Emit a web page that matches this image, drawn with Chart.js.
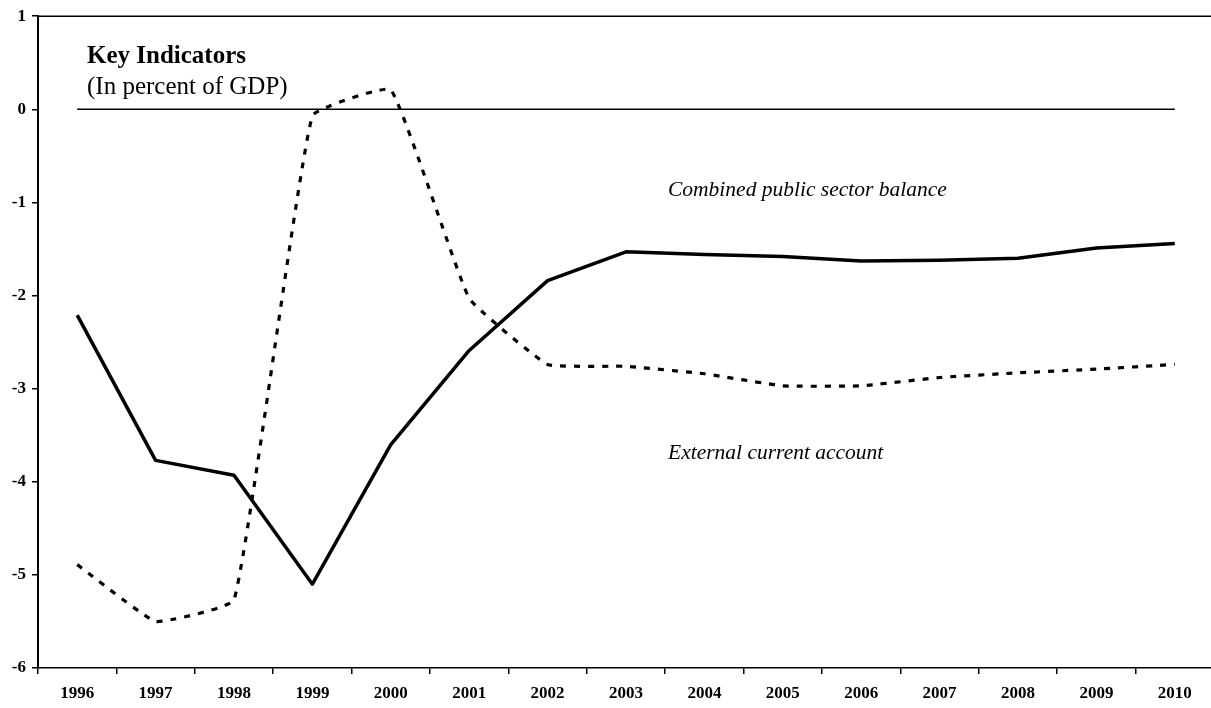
<!DOCTYPE html>
<html>
<head>
<meta charset="utf-8">
<script src="https://cdn.jsdelivr.net/npm/chart.js@4"></script>
<style>
  html, body { margin: 0; padding: 0; background: #fff; overflow: hidden; }
  #wrap { position: relative; width: 1214px; height: 708px; }
</style>
</head>
<body>
<div id="wrap"><canvas id="grafico" width="1214" height="708"></canvas></div>
<script>
// Datos
var anios = ['1996', '1997', '1998', '1999', '2000', '2001', '2002', '2003',
             '2004', '2005', '2006', '2007', '2008', '2009', '2010'];
var balancePublico = [-2.21, -3.77, -3.93, -5.10, -3.60, -2.59, -1.84, -1.53,
                      -1.56, -1.58, -1.63, -1.62, -1.60, -1.49, -1.44];
var cuentaCorriente = [-4.89, -5.50, -5.27, -0.07, 0.21, -2.03, -2.74, -2.76,
                       -2.84, -2.97, -2.97, -2.88, -2.83, -2.79, -2.74];
var ticksY = [1, 0, -1, -2, -3, -4, -5, -6];

var titulo = 'Key Indicators';
var subtitulo = '(In percent of GDP)';
var etiquetaBalance = 'Combined public sector balance';
var etiquetaCuenta = 'External current account';

var serif = '"Liberation Serif", "Times New Roman", serif';

// Plugin para el borde superior, la línea del cero y los textos
var extras = {
    id: 'extras',
    afterDraw: function(chart) {
        var ctx = chart.ctx;
        var area = chart.chartArea;
        var x = chart.scales.x;
        var y = chart.scales.y;
        ctx.save();
        ctx.strokeStyle = '#000';
        ctx.lineWidth = 1.5;
        // borde superior
        ctx.beginPath();
        ctx.moveTo(area.left, area.top);
        ctx.lineTo(area.right, area.top);
        ctx.stroke();
        // línea del cero
        var y0 = y.getPixelForValue(0);
        ctx.beginPath();
        ctx.moveTo(x.getPixelForValue(0), y0);
        ctx.lineTo(x.getPixelForValue(anios.length - 1), y0);
        ctx.stroke();
        // textos
        ctx.fillStyle = '#000';
        ctx.textBaseline = 'alphabetic';
        ctx.textAlign = 'left';
        ctx.font = 'bold 25px ' + serif;
        ctx.fillText(titulo, 87, 63);
        ctx.font = '25px ' + serif;
        ctx.fillText(subtitulo, 87, 94);
        ctx.font = 'italic 21.5px ' + serif;
        ctx.fillText(etiquetaBalance, 668, 196);
        ctx.fillText(etiquetaCuenta, 668, 459);
        ctx.restore();
    }
};

var ctx = document.getElementById('grafico').getContext('2d');
var grafico = new Chart(ctx, {
    type: 'line',
    data: {
        labels: anios,
        datasets: [{
            label: etiquetaBalance,
            data: balancePublico,
            borderColor: '#000',
            borderWidth: 3.5,
            borderJoinStyle: 'round',
            pointRadius: 0,
            tension: 0,
            fill: false
        }, {
            label: etiquetaCuenta,
            data: cuentaCorriente,
            borderColor: '#000',
            borderWidth: 3.2,
            borderDash: [6, 8],
            borderJoinStyle: 'round',
            pointRadius: 0,
            tension: 0.1,
            fill: false
        }]
    },
    options: {
        responsive: false,
        animation: false,
        layout: { padding: { top: 15, right: 0, left: 0, bottom: 0 } },
        plugins: {
            legend: { display: false },
            tooltip: { enabled: false }
        },
        scales: {
            x: {
                offset: true,
                grid: {
                    display: true,
                    offset: true,
                    drawOnChartArea: false,
                    drawTicks: true,
                    tickLength: 6,
                    color: '#000',
                    lineWidth: 1.5
                },
                border: { display: true, color: '#000', width: 1.5 },
                ticks: {
                    color: '#000',
                    padding: 9,
                    maxRotation: 0,
                    autoSkip: false,
                    font: { family: serif, size: 17, weight: 'bold' }
                },
                afterFit: function(scale) { scale.height = 40; }
            },
            y: {
                min: -6,
                max: 1,
                afterBuildTicks: function(scale) {
                    scale.ticks = ticksY.map(function(v) { return { value: v }; });
                },
                grid: {
                    display: true,
                    drawOnChartArea: false,
                    drawTicks: true,
                    tickLength: 6,
                    color: '#000',
                    lineWidth: 1.5
                },
                border: { display: true, color: '#000', width: 2 },
                ticks: {
                    color: '#000',
                    padding: 6,
                    autoSkip: false,
                    font: { family: serif, size: 17, weight: 'bold' }
                },
                afterFit: function(scale) { scale.width = 38; }
            }
        }
    },
    plugins: [extras]
});
</script>
</body>
</html>
